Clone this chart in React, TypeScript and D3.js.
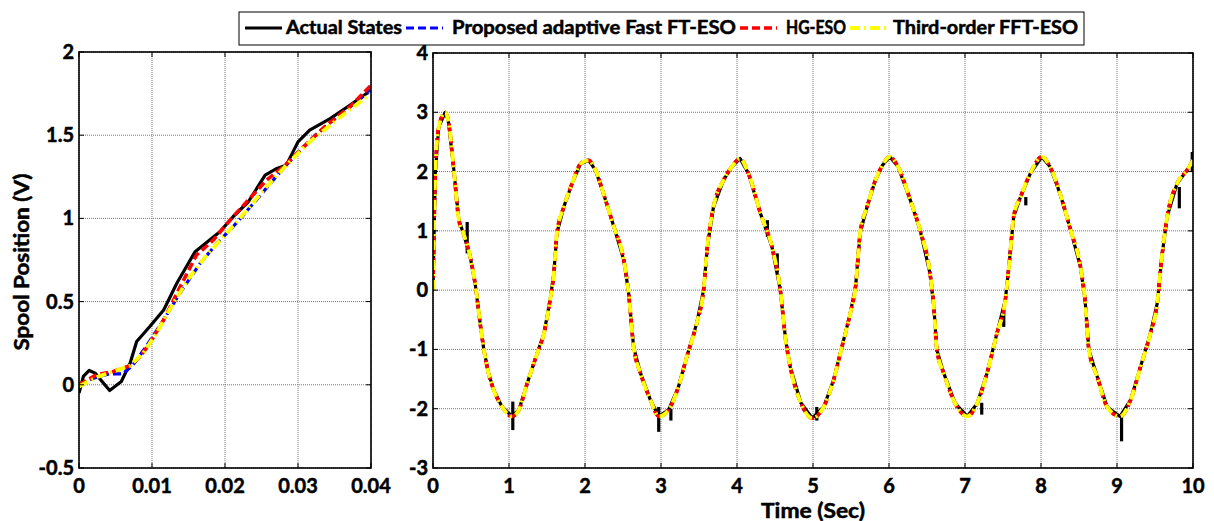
import React from 'react';
import * as d3 from 'd3';

// ---- data ----
const seriesNames = ['Actual States', 'Proposed adaptive Fast FT-ESO', 'HG-ESO', 'Third-order FFT-ESO'];

// left panel: zoom on the first 0.04 s
const zoomActualT = [0, 0.0006, 0.0014, 0.0022, 0.0042, 0.0058, 0.007, 0.0079, 0.0097, 0.0116, 0.0134, 0.0159, 0.0179, 0.0193, 0.0211, 0.0232, 0.0255, 0.0271, 0.0284, 0.03, 0.0316, 0.0344, 0.0371, 0.04];
const zoomActualV = [-0.05, 0.05, 0.086, 0.07, -0.034, 0.02, 0.13, 0.26, 0.35, 0.45, 0.61, 0.8, 0.87, 0.92, 1.01, 1.1, 1.26, 1.3, 1.32, 1.46, 1.53, 1.6, 1.68, 1.77];

const zoomProposedT = [0, 0.002, 0.0042, 0.006, 0.0074, 0.0092, 0.0116, 0.0138, 0.0166, 0.0189, 0.0211, 0.0239, 0.0266, 0.0294, 0.0326, 0.0362, 0.04];
const zoomProposedV = [0, 0.04, 0.066, 0.065, 0.12, 0.23, 0.39, 0.55, 0.73, 0.85, 0.95, 1.09, 1.23, 1.37, 1.51, 1.64, 1.77];

const zoomHgT = [0, 0.0024, 0.0047, 0.007, 0.0084, 0.0097, 0.0116, 0.0134, 0.0161, 0.0184, 0.0207, 0.0234, 0.0257, 0.028, 0.0303, 0.0339, 0.0371, 0.04];
const zoomHgV = [0, 0.06, 0.08, 0.115, 0.17, 0.25, 0.39, 0.55, 0.78, 0.87, 0.99, 1.12, 1.23, 1.31, 1.41, 1.56, 1.67, 1.8];

const zoomFftT = [0, 0.0024, 0.0047, 0.007, 0.0088, 0.0106, 0.0129, 0.0152, 0.0175, 0.0202, 0.023, 0.0257, 0.0284, 0.0316, 0.0358, 0.04];
const zoomFftV = [-0.01, 0.046, 0.08, 0.115, 0.19, 0.31, 0.49, 0.65, 0.78, 0.91, 1.05, 1.19, 1.32, 1.46, 1.61, 1.75];

// right panel: full 10 s run
const fullT = [0, 0.03, 0.075, 0.16, 0.2, 0.27, 0.34, 0.4, 0.49, 0.56, 0.62, 0.67, 0.73, 0.8, 0.91, 1.04, 1.13, 1.24, 1.37, 1.46,
  1.54, 1.59, 1.63, 1.72, 1.83, 1.94, 2.05, 2.14, 2.27, 2.38, 2.51, 2.57, 2.64, 2.73, 2.86, 2.97, 3.1, 3.23, 3.34, 3.47,
  3.56, 3.61, 3.69, 3.82, 3.93, 4.04, 4.15, 4.31, 4.46, 4.57, 4.64, 4.7, 4.84, 4.99, 5.14, 5.27, 5.38, 5.49, 5.56, 5.62,
  5.71, 5.82, 5.91, 6.01, 6.12, 6.28, 6.41, 6.54, 6.59, 6.63, 6.72, 6.87, 7.03, 7.16, 7.29, 7.42, 7.53, 7.59, 7.64, 7.73,
  7.86, 8.01, 8.12, 8.25, 8.39, 8.52, 8.58, 8.63, 8.74, 8.87, 9.04, 9.18, 9.31, 9.44, 9.53, 9.59, 9.66, 9.79, 9.92, 10];
const fullV = [0, 1.97, 2.75, 3.0, 2.87, 2.08, 1.18, 0.96, 0.56, 0.06, -0.56, -1.01, -1.4, -1.69, -1.97, -2.13, -2.02, -1.57, -1.07, -0.73,
  -0.17, 0.28, 0.96, 1.4, 1.8, 2.13, 2.19, 2.02, 1.52, 1.07, 0.51, 0, -0.96, -1.4, -1.85, -2.13, -2.02, -1.63, -1.12, -0.56,
  0, 0.73, 1.4, 1.85, 2.08, 2.22, 1.97, 1.29, 0.73, 0, -0.84, -1.29, -1.9, -2.16, -1.97, -1.52, -0.96, -0.39, 0.06, 0.96,
  1.4, 1.85, 2.1, 2.25, 2.08, 1.52, 1.01, 0.28, -0.28, -1.01, -1.4, -1.91, -2.13, -1.91, -1.4, -0.73, -0.17, 0.56, 1.24, 1.57,
  1.97, 2.25, 2.08, 1.63, 1.01, 0.39, -0.17, -1.01, -1.46, -1.97, -2.13, -1.85, -1.29, -0.73, -0.22, 0.56, 1.24, 1.8, 2.02, 2.19];

// measurement glitches on the actual signal
const spikeT = [0.45, 1.05, 2.97, 3.13, 4.4, 4.53, 5.05, 7.22, 7.51, 7.8, 9.06, 9.82, 9.99];
const spikeLo = [0.62, -2.36, -2.39, -2.2, 0.9, 0.3, -2.2, -2.1, -0.62, 1.43, -2.55, 1.38, 2.0];
const spikeHi = [1.15, -1.88, -1.97, -2.0, 1.18, 0.62, -1.97, -1.9, -0.34, 1.57, -2.13, 1.74, 2.33];

const leftXTicks = [0, 0.01, 0.02, 0.03, 0.04];
const leftYTicks = [-0.5, 0, 0.5, 1, 1.5, 2];
const rightXTicks = [0, 1, 2, 3, 4, 5, 6, 7, 8, 9, 10];
const rightYTicks = [-3, -2, -1, 0, 1, 2, 3, 4];

const FONT = "Lato, 'Open Sans', sans-serif";
// faux-heavy bold, the original uses Calibri Bold
const heavy = { stroke: '#000', strokeWidth: 0.5, paintOrder: 'stroke' } as const;
const styles = [
  { color: '#000000', width: 3.2, dash: null },
  { color: '#0000ff', width: 3.2, dash: '8,4' },
  { color: '#ff0000', width: 3.6, dash: '8,4' },
  { color: '#ffff00', width: 3.8, dash: '10,4,2,4' },
];

const zip = (t: number[], v: number[]) => t.map((d, i) => [d, v[i]] as [number, number]);

type PanelProps = {
  x0: number; x1: number; y0: number; y1: number;
  xDomain: [number, number]; yDomain: [number, number];
  xTicks: number[]; yTicks: number[];
  series: [number, number][][];
  curve: d3.CurveFactory;
  spikes?: boolean;
};

const Panel = ({ x0, x1, y0, y1, xDomain, yDomain, xTicks, yTicks, series, curve, spikes }: PanelProps) => {
  const x = d3.scaleLinear().domain(xDomain).range([x0, x1]);
  const y = d3.scaleLinear().domain(yDomain).range([y1, y0]);
  const clipId = `clip-${x0}`;
  const tl = 5;
  return (
    <g>
      <defs>
        <clipPath id={clipId}><rect x={x0} y={y0} width={x1 - x0} height={y1 - y0} /></clipPath>
      </defs>
      <rect x={x0} y={y0} width={x1 - x0} height={y1 - y0} fill="#fff" />
      {/* grid */}
      {xTicks.map(t => (
        <line key={'gx' + t} x1={x(t)} x2={x(t)} y1={y0} y2={y1} stroke="#777" strokeWidth={1} strokeDasharray="1,1" />
      ))}
      {yTicks.map(t => (
        <line key={'gy' + t} x1={x0} x2={x1} y1={y(t)} y2={y(t)} stroke="#777" strokeWidth={1} strokeDasharray="1,1" />
      ))}
      {/* data */}
      <g clipPath={`url(#${clipId})`}>
        {spikes && spikeT.map((t, i) => (
          <line key={'sp' + i} x1={x(t)} x2={x(t)} y1={y(spikeLo[i])} y2={y(spikeHi[i])} stroke="#000" strokeWidth={3.2} />
        ))}
        {series.map((pts, i) => {
          const line = d3.line<[number, number]>().x(d => x(d[0])).y(d => y(d[1])).curve(i === 0 ? d3.curveLinear : curve);
          const st = styles[i];
          return (
            <path key={i} d={line(pts) || ''} fill="none" stroke={st.color} strokeWidth={st.width}
              strokeDasharray={st.dash || undefined} strokeLinejoin="round" />
          );
        })}
      </g>
      {/* ticks on all four sides */}
      {xTicks.map(t => (
        <g key={'tx' + t}>
          <line x1={x(t)} x2={x(t)} y1={y1} y2={y1 - tl} stroke="#000" />
          <line x1={x(t)} x2={x(t)} y1={y0} y2={y0 + tl} stroke="#000" />
          <text x={x(t)} y={y1 + 25} textAnchor="middle" fontFamily={FONT} fontWeight="bold" fontSize={20} {...heavy}>{t}</text>
        </g>
      ))}
      {yTicks.map(t => (
        <g key={'ty' + t}>
          <line x1={x0} x2={x0 + tl} y1={y(t)} y2={y(t)} stroke="#000" />
          <line x1={x1} x2={x1 - tl} y1={y(t)} y2={y(t)} stroke="#000" />
          <text x={x0 - 5} y={y(t) + 7} textAnchor="end" fontFamily={FONT} fontWeight="bold" fontSize={20} {...heavy}>{t}</text>
        </g>
      ))}
      <rect x={x0} y={y0} width={x1 - x0} height={y1 - y0} fill="none" stroke="#000" strokeWidth={1.6} />
    </g>
  );
};

const Legend = () => {
  // sample start, text start for each entry
  const items = [
    { s: 245, t: 286 },
    { s: 406, t: 452 },
    { s: 740, t: 786 },
    { s: 850, t: 893 },
  ];
  const textEnd = [402, 736, 846, 1078];
  const cy = 28;
  return (
    <g>
      <rect x={239} y={12} width={845} height={33} fill="#fff" stroke="#000" strokeWidth={1} />
      {items.map((it, i) => (
        <g key={i}>
          <line x1={it.s} x2={it.s + 37} y1={cy} y2={cy} stroke={styles[i].color} strokeWidth={styles[i].width}
            strokeDasharray={styles[i].dash || undefined} />
          <text x={it.t} y={cy + 6} fontFamily={FONT} fontWeight="bold" fontSize={18} {...heavy}
            textLength={textEnd[i] - it.t} lengthAdjust="spacingAndGlyphs">{seriesNames[i]}</text>
        </g>
      ))}
    </g>
  );
};

export default function App() {
  const leftSeries = [zip(zoomActualT, zoomActualV), zip(zoomProposedT, zoomProposedV), zip(zoomHgT, zoomHgV), zip(zoomFftT, zoomFftV)];
  const full = zip(fullT, fullV);
  const rightSeries = [full, full, full, full];
  return (
    <svg width={1214} height={521} style={{ position: 'absolute', left: 0, top: 0, background: '#fff' }}>
      <rect width={1214} height={521} fill="#fff" />
      <Panel x0={79} x1={371} y0={52} y1={468} xDomain={[0, 0.04]} yDomain={[-0.5, 2]}
        xTicks={leftXTicks} yTicks={leftYTicks} series={leftSeries} curve={d3.curveLinear} />
      <Panel x0={433} x1={1193} y0={53} y1={468} xDomain={[0, 10]} yDomain={[-3, 4]}
        xTicks={rightXTicks} yTicks={rightYTicks} series={rightSeries} curve={d3.curveMonotoneX} spikes />
      <text transform="translate(29,262) rotate(-90)" textAnchor="middle" fontFamily={FONT} fontWeight="bold" fontSize={21} {...heavy}
        textLength={177} lengthAdjust="spacingAndGlyphs">Spool Position (V)</text>
      <text x={813} y={518} textAnchor="middle" fontFamily={FONT} fontWeight="bold" fontSize={20} {...heavy}
        textLength={104} lengthAdjust="spacingAndGlyphs">Time (Sec)</text>
      <Legend />
    </svg>
  );
}
